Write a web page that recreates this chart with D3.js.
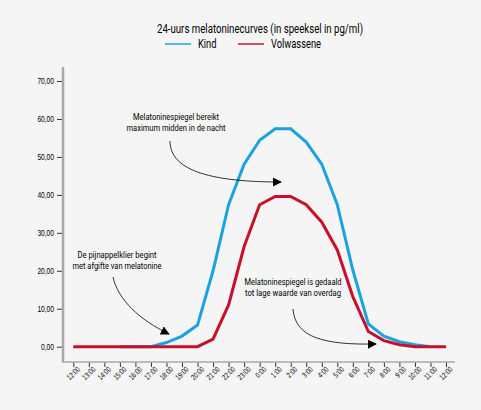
<!DOCTYPE html>
<html>
<head>
<meta charset="utf-8">
<script src="https://cdn.jsdelivr.net/npm/d3@7"></script>
<style>
  body { margin: 0; background: #f5f5f5; }
  svg { display: block; font-family: Roboto, "Liberation Sans", sans-serif; }
</style>
</head>
<body>
<svg id="chart" width="481" height="410"></svg>
<script>
// tijdstippen van 12:00 tot 12:00 (volgende dag)
var hours = ["12:00","13:00","14:00","15:00","16:00","17:00","18:00","19:00","20:00","21:00","22:00","23:00",
             "0:00","1:00","2:00","3:00","4:00","5:00","6:00","7:00","8:00","9:00","10:00","11:00","12:00 "];
var kind = [null,null,null,0,0,0,1.1,2.8,5.7,20,37.4,48.1,54.4,57.4,57.4,53.9,48.1,37.4,20.2,6,2.8,1.3,0.5,0,null];
var volwassene = [0,0,0,0,0,0,0,0,0,2,11,26.4,37.4,39.6,39.6,37.4,32.8,25.5,13.2,4,1.6,0.5,0,0,0];
var yTicks = [0,10,20,30,40,50,60,70];

var svg = d3.select("#chart");
var x = d3.scalePoint().domain(hours).range([73.3, 446]);
var y = d3.scaleLinear().domain([0, 70]).range([346.7, 81]);

// smaller maken (helvetica condensed nabootsen)
function narrow(sel, f){
    sel.each(function(){
        var w = this.getComputedTextLength();
        d3.select(this).attr("textLength", w * f).attr("lengthAdjust", "spacingAndGlyphs");
    });
}

svg.append("defs").append("marker")
    .attr("id", "arrow")
    .attr("viewBox", "0 0 10 10")
    .attr("refX", 9).attr("refY", 5)
    .attr("markerWidth", 9).attr("markerHeight", 9)
    .attr("markerUnits", "userSpaceOnUse")
    .attr("orient", "auto")
  .append("path")
    .attr("d", "M0,0 L10,5 L0,10 z")
    .attr("fill", "#000");

// titel + legenda
svg.append("text").attr("x", 157).attr("y", 33).attr("font-size", 12)
    .attr("textLength", 206).attr("lengthAdjust", "spacingAndGlyphs")
    .text("24-uurs melatoninecurves (in speeksel in pg/ml)");
var legend = [["Kind", "#1ba3de", 165, 18.5], ["Volwassene", "#c8102e", 238, 50]];
legend.forEach(function(l){
    svg.append("line").attr("x1", l[2]).attr("x2", l[2] + 26).attr("y1", 44).attr("y2", 44)
        .attr("stroke", l[1]).attr("stroke-width", 1.5);
    svg.append("text").attr("x", l[2] + 33).attr("y", 48).attr("font-size", 12)
        .attr("textLength", l[3]).attr("lengthAdjust", "spacingAndGlyphs").text(l[0]);
});

// y-as
var yAxis = svg.append("g").attr("transform", "translate(63,0)")
    .call(d3.axisLeft(y).tickValues(yTicks).tickSize(6).tickPadding(3)
        .tickFormat(function(d){ return d3.format(".2f")(d).replace(".", ","); }));
yAxis.select(".domain").remove();
yAxis.selectAll("line").attr("stroke", "#333");
yAxis.selectAll("text").attr("font-size", 8.3).attr("font-weight", 500).attr("fill", "#000").call(narrow, 0.8);
svg.append("line").attr("x1", 63).attr("x2", 63).attr("y1", 67).attr("y2", 362)
    .attr("stroke", "#a8a8a8").attr("stroke-width", 2.5);

// x-as
var xAxis = svg.append("g").attr("transform", "translate(0,362)")
    .call(d3.axisBottom(x).tickSize(5).tickPadding(2));
xAxis.select(".domain").remove();
xAxis.selectAll("line").attr("stroke", "#333");
xAxis.selectAll("text").attr("font-size", 7.8).attr("font-weight", 500).attr("fill", "#000")
    .attr("text-anchor", "end")
    .attr("transform", "translate(2,3) rotate(-45)")
    .attr("dy", "0.35em").attr("y", 4).attr("x", 0)
    .call(narrow, 0.78);
svg.append("line").attr("x1", 62).attr("x2", 455).attr("y1", 362).attr("y2", 362)
    .attr("stroke", "#a8a8a8").attr("stroke-width", 1.5);

// lijnen
var line = d3.line()
    .defined(function(d){ return d != null; })
    .x(function(d, i){ return x(hours[i]); })
    .y(function(d){ return y(d); });
svg.append("path").attr("d", line(kind)).attr("fill", "none")
    .attr("stroke", "#1ba3de").attr("stroke-width", 3).attr("stroke-linejoin", "miter");
svg.append("path").attr("d", line(volwassene)).attr("fill", "none")
    .attr("stroke", "#c8102e").attr("stroke-width", 3).attr("stroke-linejoin", "miter");

// annotaties
var notes = [
    {lines: ["Melatoninespiegel bereikt", "maximum midden in de nacht"], w: [86, 99], x: 176, y: 119.5,
     path: "M170,141 C170,172 215,182 281,182"},
    {lines: ["De pijnappelklier begint", "met afgifte van melatonine"], w: [79, 89], x: 117, y: 258,
     path: "M113,277 C118,300 140,320 169,334"},
    {lines: ["Melatoninespiegel is gedaald", "tot lage waarde van overdag"], w: [97, 96], x: 293, y: 285,
     path: "M293,309 C295,338 325,345 376,344"}
];
notes.forEach(function(n){
    var t = svg.append("text").attr("text-anchor", "middle").attr("font-size", 8.8);
    n.lines.forEach(function(s, i){
        t.append("tspan").attr("x", n.x).attr("y", n.y + i * 11)
            .attr("textLength", n.w[i]).attr("lengthAdjust", "spacingAndGlyphs").text(s);
    });
    svg.append("path").attr("d", n.path).attr("fill", "none")
        .attr("stroke", "#000").attr("stroke-width", 0.8)
        .attr("marker-end", "url(#arrow)");
});
</script>
</body>
</html>
